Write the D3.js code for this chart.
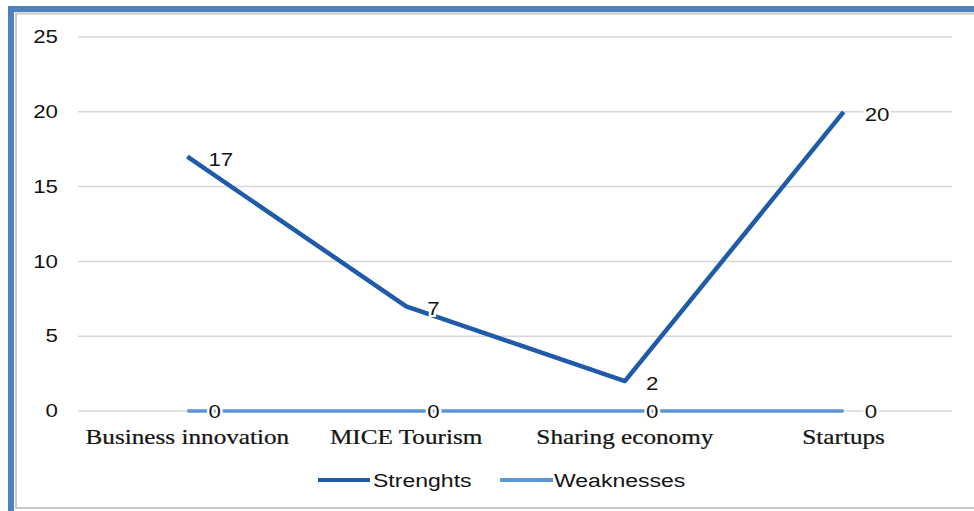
<!DOCTYPE html>
<html><head><meta charset="utf-8">
<script src="https://cdnjs.cloudflare.com/ajax/libs/d3/7.8.5/d3.min.js"></script>
<style>html,body{margin:0;padding:0;background:#fff;overflow:hidden}</style>
</head><body>
<svg id="c" width="974" height="511"></svg>
<script>
const categories = ["Business innovation", "MICE Tourism", "Sharing economy", "Startups"];
const strengths = [17, 7, 2, 20];
const weaknesses = [0, 0, 0, 0];
const seriesNames = ["Strenghts", "Weaknesses"];
const yTicks = [0, 5, 10, 15, 20, 25];

const svg = d3.select("#c");
const sx = 1.24;

// frame
svg.append("rect").attr("x", 11).attr("y", 9).attr("width", 1000).attr("height", 560)
  .attr("fill", "none").attr("stroke", "#4f81bd").attr("stroke-width", 6);
svg.append("rect").attr("x", 16).attr("y", 13.5).attr("width", 1000).attr("height", 494.5)
  .attr("fill", "#fff").attr("stroke", "#c8c8c8").attr("stroke-width", 2);

const x = d3.scaleBand().domain(categories).range([78, 953]);
const y = d3.scaleLinear().domain([0, 25]).range([411, 37]);
const cx = d => x(d) + x.bandwidth() / 2;

function txt(g, tx, ty, s, opts) {
  const t = g.append("text")
    .attr("transform", `translate(${tx},${ty}) scale(${opts.sx || sx},1)`)
    .attr("text-anchor", opts.anchor || "start")
    .attr("dominant-baseline", opts.baseline || "central")
    .attr("font-family", opts.family || "'Liberation Sans', Arial, sans-serif")
    .attr("font-size", opts.size || 18)
    .attr("fill", opts.fill || "#141414")
    .text(s);
  if (opts.halo) t.attr("stroke", "#fff").attr("stroke-width", 4).attr("paint-order", "stroke");
  if (opts.bold) t.attr("stroke", opts.fill || "#141414").attr("stroke-width", opts.bold);
  return t;
}

// gridlines
const grid = svg.append("g");
yTicks.forEach(v => {
  grid.append("line").attr("x1", 78).attr("x2", 952).attr("y1", y(v)).attr("y2", y(v))
    .attr("stroke", "#d6d6d6").attr("stroke-width", 1.5);
  txt(grid, 58, y(v), String(v), {anchor: "end", size: 18});
});

// lines
const line = d3.line().x((d, i) => cx(categories[i])).y(d => y(d));
svg.append("path").datum(weaknesses).attr("d", line).attr("fill", "none")
  .attr("stroke", "#5b96d6").attr("stroke-width", 3.5);
svg.append("path").datum(strengths).attr("d", line).attr("fill", "none")
  .attr("stroke", "#1f5ba8").attr("stroke-width", 4.5).attr("stroke-linejoin", "round");

// data labels
const lbl = svg.append("g");
weaknesses.forEach((v, i) => txt(lbl, cx(categories[i]) + 21, y(v) + 1, String(v), {halo: true}));
strengths.forEach((v, i) => txt(lbl, cx(categories[i]) + 21, y(v) + 3, String(v), {halo: true}));

// category labels
categories.forEach(c => txt(svg, cx(c), 437, c, {anchor: "middle", family: "'Liberation Serif', 'Times New Roman', serif", size: 21, sx: 1.2, fill: "#161616", bold: 0.25}));

// legend
const leg = svg.append("g");
const legItems = [{x1: 318, x2: 370, color: "#1f5ba8", tx: 373}, {x1: 500, x2: 553, color: "#5b96d6", tx: 554}];
legItems.forEach((d, i) => {
  leg.append("line").attr("x1", d.x1).attr("x2", d.x2).attr("y1", 480).attr("y2", 480)
    .attr("stroke", d.color).attr("stroke-width", 4);
  txt(leg, d.tx, 480, seriesNames[i], {size: 18, sx: 1.28});
});
</script>
</body></html>
